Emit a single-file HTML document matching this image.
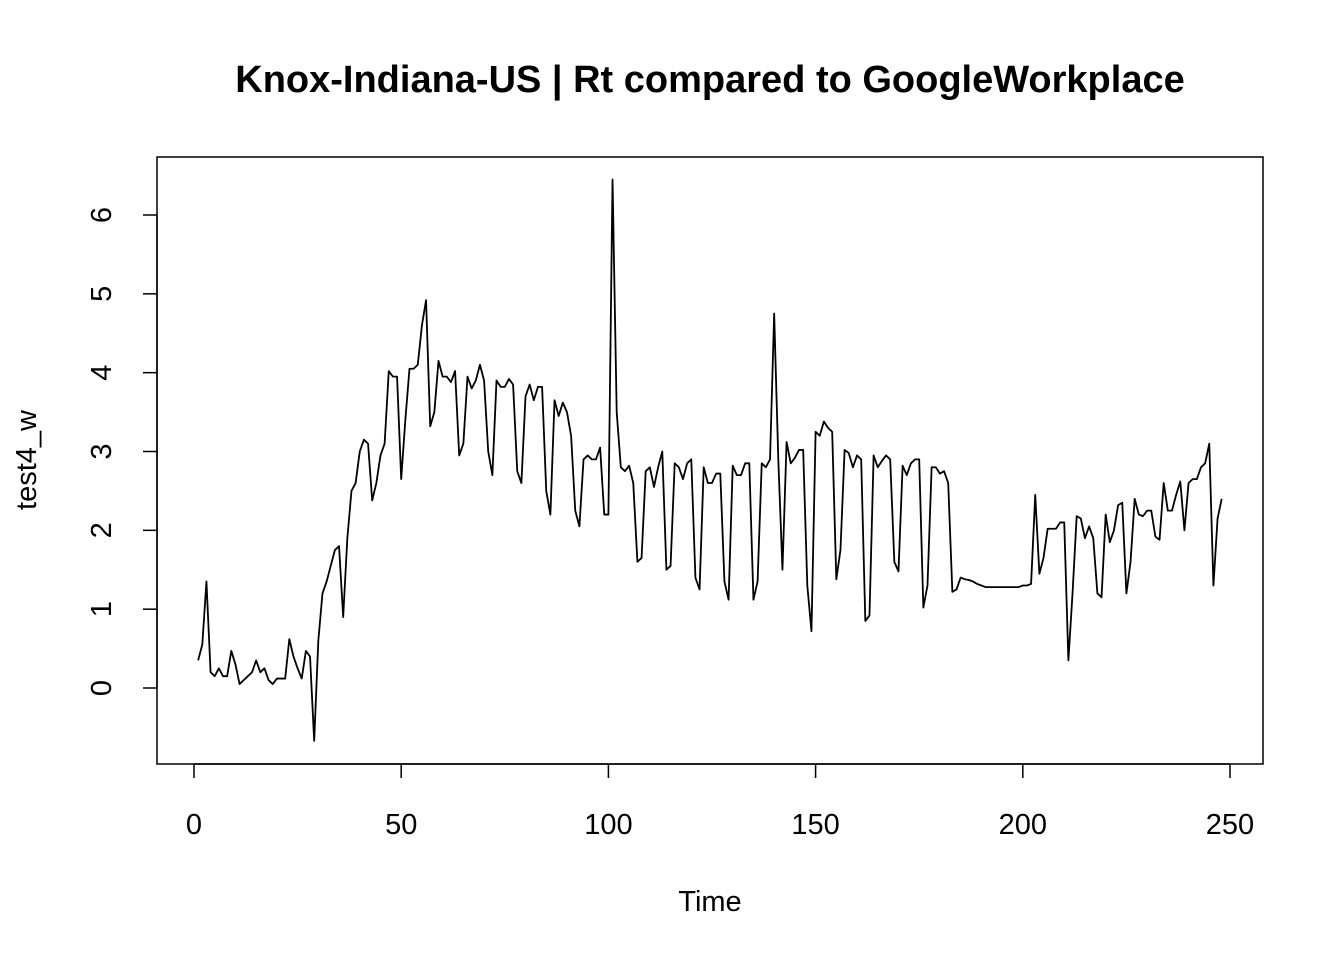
<!DOCTYPE html>
<html><head><meta charset="utf-8"><style>
body{margin:0;background:#fff}
svg{display:block;font-family:"Liberation Sans",Arial,sans-serif}
</style></head><body>
<svg id="chart" width="1344" height="960">
<rect width="1344" height="960" fill="#fff"/>
<text x="710" y="92" text-anchor="middle" font-size="38" font-weight="bold">Knox-Indiana-US | Rt compared to GoogleWorkplace</text>
<rect x="157" y="157" width="1106" height="607" fill="none" stroke="#000" stroke-width="1.5"/>
<g id="xaxis"></g>
<g id="yaxis"></g>
<text x="710" y="911" text-anchor="middle" font-size="29">Time</text>
<text transform="translate(36,460) rotate(-90)" text-anchor="middle" font-size="29">test4_w</text>
<path id="series" fill="none" stroke="#000" stroke-width="1.8" stroke-linejoin="round"/>
</svg>
<script>
const xTicks=[0,50,100,150,200,250];
const yTicks=[0,1,2,3,4,5,6];
const values=[0.35,0.55,1.35,0.2,0.15,0.25,0.15,0.15,0.47,0.3,
0.05,0.1,0.15,0.2,0.35,0.2,0.25,0.1,0.05,0.12,
0.12,0.12,0.62,0.4,0.25,0.12,0.47,0.4,-0.67,0.6,
1.2,1.35,1.55,1.75,1.8,0.9,1.9,2.5,2.6,3.0,
3.15,3.1,2.38,2.6,2.95,3.1,4.02,3.95,3.95,2.65,
3.4,4.05,4.05,4.1,4.6,4.92,3.32,3.5,4.15,3.95,
3.95,3.88,4.02,2.95,3.1,3.95,3.8,3.9,4.1,3.9,
3.0,2.7,3.9,3.82,3.82,3.92,3.85,2.75,2.6,3.7,
3.85,3.65,3.82,3.82,2.5,2.2,3.65,3.45,3.62,3.5,
3.2,2.25,2.05,2.9,2.95,2.9,2.9,3.05,2.2,2.2,
6.45,3.5,2.8,2.75,2.82,2.6,1.6,1.65,2.75,2.8,
2.55,2.8,3.0,1.5,1.55,2.85,2.8,2.65,2.85,2.9,
1.4,1.25,2.8,2.6,2.6,2.72,2.72,1.35,1.12,2.82,
2.7,2.7,2.85,2.85,1.12,1.35,2.85,2.8,2.9,4.75,
2.9,1.5,3.12,2.85,2.92,3.02,3.02,1.3,0.72,3.25,
3.2,3.38,3.3,3.25,1.38,1.75,3.02,2.98,2.8,2.95,
2.9,0.85,0.92,2.95,2.8,2.88,2.95,2.9,1.6,1.48,
2.82,2.7,2.85,2.9,2.9,1.02,1.3,2.8,2.8,2.72,
2.75,2.6,1.22,1.25,1.4,1.38,1.37,1.35,1.32,1.3,
1.28,1.28,1.28,1.28,1.28,1.28,1.28,1.28,1.28,1.3,
1.3,1.32,2.45,1.45,1.65,2.02,2.02,2.02,2.1,2.1,
0.35,1.2,2.18,2.15,1.9,2.05,1.9,1.2,1.15,2.2,
1.85,2.0,2.32,2.35,1.2,1.6,2.4,2.2,2.18,2.25,
2.25,1.92,1.88,2.6,2.25,2.25,2.45,2.62,2.0,2.6,
2.65,2.65,2.8,2.85,3.1,1.3,2.15,2.4];
const NS="http://www.w3.org/2000/svg";
function sx(t){return 194+t*(1230-194)/250;}
function sy(v){return 688-v*(688-215)/6;}
function mk(tag,attrs,parent){const e=document.createElementNS(NS,tag);for(const k in attrs)e.setAttribute(k,attrs[k]);parent.appendChild(e);return e;}
const xa=document.getElementById('xaxis');
mk('line',{x1:sx(0),x2:sx(250),y1:764,y2:764,stroke:'#000','stroke-width':1.5},xa);
xTicks.forEach(t=>{
  const l=mk('line',{x1:sx(t),x2:sx(t),y1:764,y2:778,stroke:'#000','stroke-width':1.5},xa);
  
  
  const tx=mk('text',{x:sx(t),y:834,'text-anchor':'middle','font-size':29},xa);
  tx.textContent=t;
  
  
});
const ya=document.getElementById('yaxis');
mk('line',{x1:157,x2:157,y1:sy(0),y2:sy(6),stroke:'#000','stroke-width':1.5},ya);
yTicks.forEach(v=>{
  const l=mk('line',{x1:143,x2:157,y1:sy(v),y2:sy(v),stroke:'#000','stroke-width':1.5},ya);
  
  
  const tx=mk('text',{transform:`translate(111,${sy(v)}) rotate(-90)`,'text-anchor':'middle','font-size':29},ya);
  tx.textContent=v;
  
  
});
document.getElementById('series').setAttribute('d',values.map((v,i)=>(i?'L':'M')+sx(i+1).toFixed(2)+','+sy(v).toFixed(2)).join(''));
</script>
</body></html>
